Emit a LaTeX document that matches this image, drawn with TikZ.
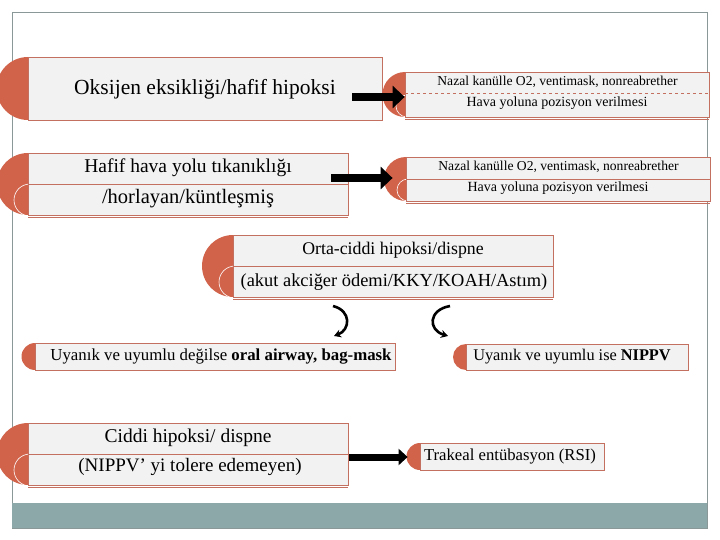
\documentclass[tikz,border=0pt]{standalone}
\usepackage{fontspec}
\setmainfont{Liberation Serif}
\usetikzlibrary{arrows.meta}
\definecolor{coral}{RGB}{209,99,75}
\definecolor{boxline}{RGB}{196,112,96}
\definecolor{boxfill}{RGB}{242,242,242}
\definecolor{framegray}{RGB}{138,152,152}
\definecolor{teal}{RGB}{140,168,168}
\tikzset{
  box/.style={draw=boxline, fill=boxfill, line width=0.8pt, inner sep=0pt, rectangle},
  half/.style={fill=coral, draw=none},
  ring/.style={draw=white, line width=0.6pt},
  divider/.style={draw=boxline, line width=0.8pt},
  txt/.style={inner sep=0pt, text=black},
  fs/.style={txt, font=\fontsize{#1}{#1}\selectfont},
  blockarrow/.style={draw=black, line width=8pt, -{Triangle[length=12pt, width=22pt]}},
  curvearrow/.style={draw=black, line width=2.6pt, -{Stealth[length=7pt, width=8pt]}}
}
\begin{document}
\begin{tikzpicture}[x=1pt, y=-1pt]
\useasboundingbox (0,0) rectangle (720,540);
% frame
\draw[framegray, line width=0.9pt] (12,12) rectangle (707,528);
\fill[teal] (12,503) rectangle (707,528);

% ---- Box A
\fill[half] (28,88.5) circle (31.5);
\node[box, minimum width=354pt, minimum height=63pt] (A) at (205,88.5) {};
\node[fs=21.5] (Atxt) at (205,89) {Oksijen eksikliği/hafif hipoksi};

% ---- Box B
\fill[half] (28,184) circle (31);
\draw[ring] (30,200) circle (16);
\node[box, minimum width=320pt, minimum height=62pt] (B) at (188,184) {};
\draw[boxline, line width=0.8pt] (28,217) -- (348,217);
\draw[divider] (28,184) -- (348,184);
\node[fs=19.5] (B1) at (188,168) {Hafif hava yolu tıkanıklığı};
\node[fs=20.5] (B2) at (188,199) {/horlayan/küntleşmiş};

% ---- Box C
\fill[half] (405,94.5) circle (22.5);
\draw[ring] (407,106) circle (11);
\node[box, minimum width=304pt, minimum height=45pt] (C) at (557,94.5) {};
\draw[boxline, line width=0.5pt, dashed] (405,93) -- (709,93);
\draw[boxline, line width=0.8pt] (405,119) -- (709,119);
\node[fs=13.6] (C1) at (557.5,82) {Nazal kanülle O2, ventimask, nonreabrether};
\node[fs=14] (C2) at (557,103.5) {Hava yoluna pozisyon verilmesi};

% ---- Box D
\fill[half] (406,179) circle (22);
\draw[ring] (408,190) circle (11);
\node[box, minimum width=304pt, minimum height=44pt] (D) at (558,179) {};
\draw[divider] (406,179) -- (710,179);
\draw[boxline, line width=0.8pt] (406,203) -- (710,203);
\node[fs=13.6] (D1) at (558.5,166.5) {Nazal kanülle O2, ventimask, nonreabrether};
\node[fs=14] (D2) at (558,188.5) {Hava yoluna pozisyon verilmesi};

% ---- block arrows A->C, B->D
\coordinate (a1s) at (352,97);
\coordinate (a2s) at (331,178);
\draw[blockarrow] (a1s) -- (a1s -| C.west);
\draw[blockarrow] (a2s) -- ([xshift=-13pt]a2s -| D.west);

% ---- Box E
\fill[half] (233,266) circle (31);
\draw[ring] (235,282) circle (16);
\node[box, minimum width=320pt, minimum height=62pt] (E) at (393,266) {};
\draw[divider] (233,266) -- (553,266);
\draw[boxline, line width=0.8pt] (233,299) -- (553,299);
\node[fs=17.8] (E1) at (393,250) {Orta-ciddi hipoksi/dispne};
\node[fs=18.4] (E2) at (394,282) {(akut akciğer ödemi/KKY/KOAH/Astım)};

% ---- curved arrows
\coordinate (c1s) at (333,306);
\coordinate (c1e) at (334,336);
\coordinate (c2s) at (450,306);
\coordinate (c2e) at (448,336);
\draw[curvearrow] (c1s) .. controls (352,311) and (350,330) .. (c1e);
\draw[curvearrow] (c2s) .. controls (428,310) and (428,330) .. (c2e);

% ---- Box F
\fill[half] (35,356.5) circle (13.5);
\node[box, minimum width=360pt, minimum height=27pt] (F) at (215,356.5) {};
\node[fs=16.8] (Ftxt) at (221,357) {Uyanık ve uyumlu değilse \textbf{oral airway, bag-mask}};

% ---- Box G
\fill[half] (466,357) circle (13);
\node[box, minimum width=222pt, minimum height=26pt] (G) at (577,357) {};
\node[fs=16.3] (Gtxt) at (572,357) {Uyanık ve uyumlu ise \textbf{NIPPV}};

% ---- Box H
\fill[half] (28,454) circle (31);
\draw[ring] (30,470) circle (16);
\node[box, minimum width=320pt, minimum height=62pt] (H) at (188,454) {};
\draw[divider] (28,454) -- (348,454);
\draw[boxline, line width=0.8pt] (28,487) -- (348,487);
\node[fs=19.5] (H1) at (188,438) {Ciddi hipoksi/ dispne};
\node[fs=19] (H2) at (190,467) {(NIPPV’ yi tolere edemeyen)};

% ---- Box I
\fill[half] (420,456.5) circle (13.5);
\node[box, minimum width=184pt, minimum height=27pt] (I) at (512,456.5) {};
\node[fs=16.7] (Itxt) at (510,457) {Trakeal entübasyon (RSI)};

% ---- block arrow H->I
\coordinate (a3s) at (349,457);
\draw[draw=black, line width=7pt, -{Triangle[length=9pt, width=16pt]}] (a3s) -- ([xshift=-12pt]a3s -| I.west);
\end{tikzpicture}
\end{document}
